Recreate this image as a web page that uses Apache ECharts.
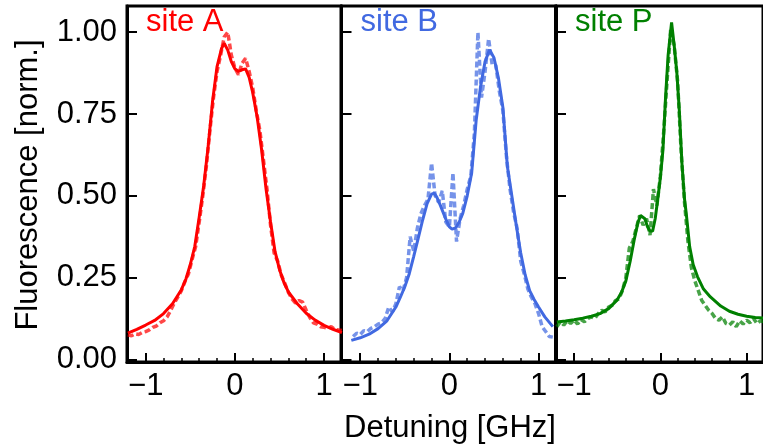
<!DOCTYPE html>
<html>
<head>
<meta charset="utf-8">
<script src="https://cdn.jsdelivr.net/npm/echarts@6/dist/echarts.min.js"></script>
<style>
html,body{margin:0;padding:0;background:#fff;}
#chart{width:763px;height:447px;}
</style>
</head>
<body>
<div id="chart"></div>
<script>
// ---- data ----
const siteNames = ["site A", "site B", "site P"];
const siteColors = ["#ff0000", "#4169e1", "#008000"];
const yTickValues = [0, 0.25, 0.5, 0.75, 1.0];
const xMajorTicks = [-1, 0, 1];
const xMinorTicks = [-0.8, -0.6, -0.4, -0.2, 0.2, 0.4, 0.6, 0.8];

const detuning = [-1.20,-1.16,-1.12,-1.08,-1.04,-1.00,-0.96,-0.92,-0.88,-0.84,-0.80,-0.76,-0.72,-0.68,-0.64,-0.60,-0.56,-0.52,-0.48,-0.44,-0.40,-0.36,-0.32,-0.28,-0.24,-0.20,-0.16,-0.12,-0.08,-0.04,0.00,0.04,0.08,0.12,0.16,0.20,0.24,0.28,0.32,0.36,0.40,0.44,0.48,0.52,0.56,0.60,0.64,0.68,0.72,0.76,0.80,0.84,0.88,0.92,0.96,1.00,1.04,1.08,1.12,1.16,1.20];

const siteA = [0.075,0.072,0.078,0.076,0.082,0.085,0.090,0.098,0.102,0.112,0.118,0.130,0.150,0.172,0.190,0.210,0.238,0.262,0.305,0.345,0.420,0.500,0.590,0.700,0.800,0.880,0.930,0.985,1.000,0.930,0.890,0.870,0.905,0.920,0.880,0.830,0.760,0.700,0.610,0.520,0.410,0.325,0.300,0.258,0.232,0.205,0.185,0.172,0.180,0.175,0.150,0.128,0.112,0.108,0.100,0.098,0.095,0.100,0.092,0.090,0.088];

const siteB = [null,null,null,0.070,0.080,0.076,0.088,0.085,0.095,0.100,0.108,0.112,0.125,0.160,0.145,0.170,0.222,0.210,0.250,0.375,0.330,0.400,0.445,0.470,0.490,0.600,0.500,0.480,0.515,0.420,0.405,0.570,0.360,0.430,0.470,0.520,0.560,0.690,1.000,0.800,0.880,0.980,0.900,0.900,0.820,0.760,0.620,0.520,0.450,0.400,0.300,0.260,0.215,0.190,0.170,0.140,0.100,0.085,0.070,0.068,null];

const siteP = [0.100,0.115,0.105,0.118,0.110,0.120,0.108,0.122,0.115,0.125,0.130,0.125,0.140,0.150,0.145,0.160,0.165,0.180,0.185,0.210,0.250,0.340,0.360,0.400,0.440,0.410,0.430,0.380,0.520,0.470,0.560,0.700,0.860,1.010,0.960,0.850,0.640,0.480,0.360,0.280,0.240,0.210,0.180,0.165,0.150,0.140,0.125,0.120,0.130,0.110,0.105,0.115,0.100,0.118,0.108,0.120,0.112,0.125,0.110,0.118,0.115];

const fitAx = [-1.20,-1.10,-1.00,-0.90,-0.80,-0.70,-0.60,-0.55,-0.50,-0.45,-0.40,-0.35,-0.30,-0.25,-0.20,-0.15,-0.12,-0.08,-0.04,0.00,0.04,0.08,0.12,0.16,0.20,0.25,0.30,0.35,0.40,0.45,0.50,0.55,0.60,0.70,0.80,0.90,1.00,1.10,1.20];
const fitAy = [0.080,0.092,0.105,0.119,0.140,0.170,0.213,0.245,0.290,0.345,0.435,0.530,0.650,0.790,0.895,0.950,0.966,0.945,0.910,0.888,0.880,0.885,0.888,0.862,0.815,0.740,0.640,0.520,0.420,0.330,0.275,0.235,0.206,0.170,0.141,0.120,0.104,0.092,0.082];

const fitBx = [-1.10,-1.00,-0.90,-0.80,-0.70,-0.60,-0.55,-0.50,-0.45,-0.40,-0.35,-0.30,-0.25,-0.20,-0.17,-0.14,-0.10,-0.05,0.00,0.03,0.07,0.11,0.15,0.20,0.25,0.30,0.35,0.40,0.45,0.50,0.55,0.60,0.65,0.70,0.75,0.80,0.85,0.90,0.95,1.00,1.07,1.16];
const fitBy = [0.058,0.066,0.077,0.094,0.118,0.160,0.190,0.222,0.262,0.315,0.370,0.426,0.476,0.505,0.508,0.495,0.470,0.435,0.405,0.398,0.402,0.420,0.446,0.500,0.570,0.730,0.835,0.910,0.946,0.922,0.860,0.770,0.590,0.500,0.410,0.325,0.258,0.210,0.183,0.160,0.130,0.100];

const fitPx = [-1.20,-1.10,-1.00,-0.90,-0.80,-0.70,-0.60,-0.50,-0.45,-0.40,-0.35,-0.30,-0.26,-0.23,-0.21,-0.18,-0.15,-0.12,-0.09,-0.06,-0.03,0.00,0.03,0.06,0.09,0.13,0.16,0.19,0.22,0.25,0.28,0.30,0.34,0.38,0.43,0.50,0.58,0.70,0.80,0.90,1.00,1.10,1.20];
const fitPy = [0.114,0.117,0.121,0.126,0.132,0.140,0.155,0.182,0.205,0.240,0.300,0.370,0.418,0.440,0.446,0.430,0.406,0.392,0.392,0.430,0.490,0.555,0.640,0.800,0.930,1.030,0.960,0.880,0.760,0.600,0.490,0.446,0.344,0.290,0.253,0.215,0.191,0.163,0.147,0.138,0.132,0.128,0.126];

// ---- build ----
const zip = (xs, ys) => xs.map((x, i) => [x, ys[i]]);
const dataSets = [zip(detuning, siteA), zip(detuning, siteB), zip(detuning, siteP)];
const fitSets = [zip(fitAx, fitAy), zip(fitBx, fitBy), zip(fitPx, fitPy)];

const FONT = '"Liberation Sans", Arial, Helvetica, sans-serif';
const FS = 31;
const lefts = [127, 341.5, 556];
const W = 214, TOP = 6, H = 356;
const XMIN = -1.21, XMAX = 1.19, YMIN = -0.008, YMAX = 1.08;

const grid = [], xAxis = [], yAxis = [], series = [];
for (let k = 0; k < 3; k++) {
  grid.push({left: lefts[k], top: TOP, width: W, height: H, show: true,
    borderColor: '#000', borderWidth: 3, backgroundColor: 'transparent', containLabel: false});
  xAxis.push({type: 'value', gridIndex: k, min: XMIN, max: XMAX,
    axisLine: {show: true, onZero: false, lineStyle: {color: '#000', width: 3}},
    axisTick: {show: true, inside: true, length: 9, customValues: xMajorTicks, lineStyle: {color: '#000', width: 2}},
    axisLabel: {show: true, customValues: xMajorTicks, margin: 9, color: '#000', fontSize: FS, fontFamily: FONT,
      formatter: v => (v < 0 ? '\u2212' + Math.abs(v) : String(v))},
    splitLine: {show: false}});
  xAxis.push({type: 'value', gridIndex: k, min: XMIN, max: XMAX, position: 'bottom',
    axisLine: {show: false, onZero: false},
    axisTick: {show: true, inside: true, length: 4, customValues: xMinorTicks, lineStyle: {color: '#000', width: 1.5}},
    axisLabel: {show: false}, splitLine: {show: false}});
  yAxis.push({type: 'value', gridIndex: k, min: YMIN, max: YMAX,
    axisLine: {show: true, onZero: false, lineStyle: {color: '#000', width: 3}},
    axisTick: {show: true, inside: true, length: 10, customValues: yTickValues, lineStyle: {color: '#000', width: 2}},
    axisLabel: {show: k === 0, customValues: yTickValues, margin: 10, color: '#000', fontSize: FS, fontFamily: FONT,
      formatter: v => v.toFixed(2)},
    splitLine: {show: false}});
  series.push({type: 'line', xAxisIndex: 2 * k, yAxisIndex: k, data: dataSets[k], showSymbol: false,
    connectNulls: false, silent: true, z: 2,
    lineStyle: {color: siteColors[k], width: 3.5, type: [6, 3], opacity: 0.72}});
  series.push({type: 'line', xAxisIndex: 2 * k, yAxisIndex: k, data: fitSets[k], showSymbol: false,
    smooth: false, silent: true, z: 3,
    lineStyle: {color: siteColors[k], width: 3}});
}

const graphic = [
  {type: 'text', x: 28, y: 185, rotation: Math.PI / 2,
    style: {text: 'Fluorescence [norm.]', fill: '#000', font: FS + 'px ' + FONT, align: 'center', verticalAlign: 'middle'}},
  {type: 'text', x: 450, y: 428,
    style: {text: 'Detuning [GHz]', fill: '#000', font: FS + 'px ' + FONT, align: 'center', verticalAlign: 'middle'}}
];
for (let k = 0; k < 3; k++) {
  graphic.push({type: 'text', x: lefts[k] + 19, y: 22, z: 10,
    style: {text: siteNames[k], fill: siteColors[k], font: FS + 'px ' + FONT, align: 'left', verticalAlign: 'middle'}});
}

const chart = echarts.init(document.getElementById('chart'), null, {renderer: 'canvas'});
chart.setOption({animation: false, backgroundColor: '#fff', grid, xAxis, yAxis, series, graphic});
</script>
</body>
</html>
